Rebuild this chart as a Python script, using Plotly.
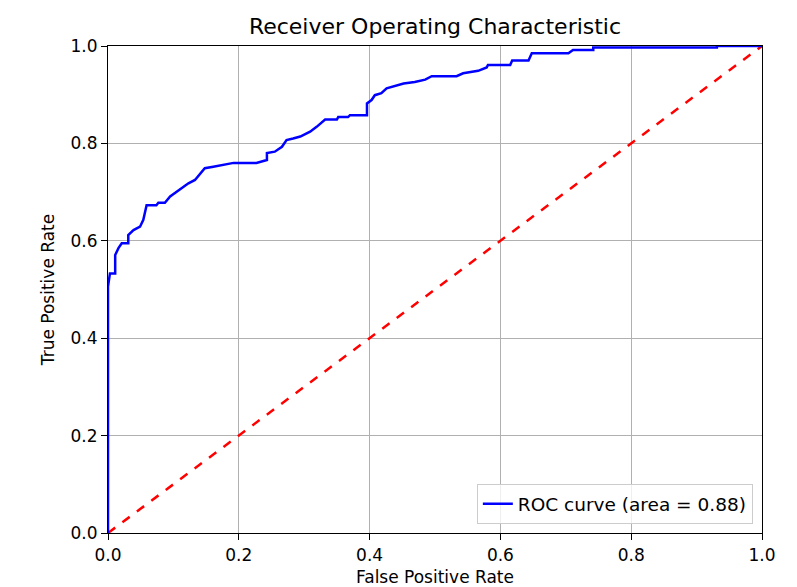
import plotly.graph_objects as go

fpr = [0.000, 0.000, 0.003, 0.011, 0.011, 0.016, 0.021, 0.031, 0.031, 0.039,
       0.049, 0.054, 0.059, 0.074, 0.077, 0.087, 0.095, 0.105, 0.115, 0.123,
       0.133, 0.141, 0.148, 0.161, 0.176, 0.192, 0.227, 0.243, 0.243, 0.255,
       0.266, 0.273, 0.283, 0.294, 0.309, 0.319, 0.332, 0.350, 0.352, 0.367,
       0.370, 0.396, 0.396, 0.403, 0.408, 0.418, 0.426, 0.439, 0.452, 0.469,
       0.485, 0.495, 0.533, 0.543, 0.566, 0.579, 0.581, 0.615, 0.618, 0.643,
       0.648, 0.704, 0.711, 0.742, 0.742, 0.931, 0.931, 1.000]
tpr = [0.000, 0.506, 0.533, 0.533, 0.571, 0.585, 0.595, 0.595, 0.612, 0.622,
       0.629, 0.643, 0.673, 0.673, 0.678, 0.678, 0.691, 0.701, 0.711, 0.718,
       0.725, 0.739, 0.749, 0.752, 0.756, 0.760, 0.760, 0.766, 0.780, 0.783,
       0.793, 0.807, 0.810, 0.814, 0.824, 0.834, 0.849, 0.849, 0.854, 0.854,
       0.858, 0.858, 0.882, 0.889, 0.899, 0.903, 0.913, 0.918, 0.923, 0.926,
       0.931, 0.938, 0.938, 0.944, 0.949, 0.956, 0.961, 0.961, 0.970, 0.970,
       0.985, 0.985, 0.992, 0.992, 0.997, 0.997, 1.000, 1.000]
roc_auc = 0.88
diag = [0.0, 1.0]
ticks = [0.0, 0.2, 0.4, 0.6, 0.8, 1.0]
tick_labels = ["0.0", "0.2", "0.4", "0.6", "0.8", "1.0"]

font = "DejaVu Sans, sans-serif"

fig = go.Figure()
fig.add_trace(go.Scatter(x=diag, y=diag, mode="lines",
                         line=dict(color="red", width=2.5, dash="dash"),
                         showlegend=False, hoverinfo="skip"))
fig.add_trace(go.Scatter(x=fpr, y=tpr, mode="lines",
                         line=dict(color="blue", width=2.5),
                         name=f"ROC curve (area = {roc_auc:.2f})"))

axis_common = dict(
    range=[0, 1], tickvals=ticks, ticktext=tick_labels,
    showgrid=True, gridcolor="#b0b0b0", gridwidth=1,
    showline=True, linecolor="black", linewidth=1.2, mirror=True,
    ticks="outside", ticklen=6, tickcolor="black", tickwidth=1.2,
    zeroline=False, tickfont=dict(family=font, size=17, color="black"),
    title_font=dict(family=font, size=17, color="black"),
    layer="above traces", automargin=False,
)

fig.update_layout(
    width=797, height=587,
    margin=dict(l=100, r=43, t=38, b=62),
    paper_bgcolor="white", plot_bgcolor="white",
    title=dict(text="Receiver Operating Characteristic", x=427 / 797,
               xanchor="center", y=1 - 18 / 587, yanchor="middle",
               font=dict(family=font, size=22, color="black")),
    xaxis=dict(axis_common, title=dict(text="False Positive Rate", standoff=7)),
    yaxis=dict(axis_common, title=dict(text="True Positive Rate", standoff=11)),
    legend=dict(x=0.986, y=0.018, xanchor="right", yanchor="bottom",
                bgcolor="rgba(255,255,255,0.8)", bordercolor="#cccccc", borderwidth=1,
                font=dict(family=font, size=18.5, color="black")),
    showlegend=True,
)

fig.write_html("out.html")
